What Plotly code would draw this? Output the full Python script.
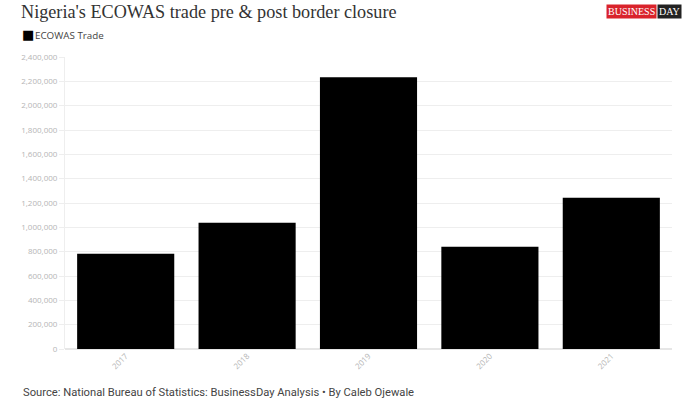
import plotly.graph_objects as go

years = ["2017", "2018", "2019", "2020", "2021"]
trade = [783000, 1038000, 2234000, 841000, 1243000]
y_ticks = [0, 200000, 400000, 600000, 800000, 1000000, 1200000, 1400000,
           1600000, 1800000, 2000000, 2200000, 2400000]
y_tick_labels = [f"{v:,}" for v in y_ticks]

W, H = 700, 400
ML, MR, MT, MB = 65, 28, 57, 51

fig = go.Figure()
fig.add_trace(go.Bar(
    x=years, y=trade, name="ECOWAS Trade",
    marker=dict(color="#000000", line=dict(width=0)),
    hovertemplate="%{x}: %{y:,}<extra></extra>",
))

fig.update_layout(
    width=W, height=H,
    margin=dict(l=ML, r=MR, t=MT, b=MB),
    paper_bgcolor="white", plot_bgcolor="white",
    bargap=0.2,
    showlegend=False,
    font=dict(family="Open Sans", color="#444"),
    xaxis=dict(
        type="category",
        tickangle=-45,
        tickfont=dict(size=8, color="#b5b5b5"),
        showgrid=False, showline=False, ticks="",
    ),
    yaxis=dict(
        range=[0, 2400000],
        tickvals=y_ticks, ticktext=y_tick_labels,
        tickfont=dict(size=8, color="#b5b5b5"),
        showgrid=True, gridcolor="#eeeeee", gridwidth=1,
        zeroline=True, zerolinecolor="#e6e6e6",
        showline=True, linecolor="#eeeeee",
        ticks="outside", ticklen=5, tickcolor="#eeeeee",
    ),
)

def px_x(x):  # page pixel -> shift relative to plot left
    return x - ML

def px_y(y):  # page pixel -> shift relative to plot top (positive up)
    return MT - y

# title
fig.add_annotation(
    text="Nigeria's ECOWAS trade pre & post border closure",
    xref="paper", yref="paper", x=0, y=1, xanchor="left", yanchor="middle",
    xshift=px_x(19), yshift=px_y(12), showarrow=False,
    font=dict(family="Liberation Serif", size=18.2, color="#333333"),
)
# legend marker + label
fig.add_annotation(
    text="\u25A0", xref="paper", yref="paper", x=0, y=1,
    xanchor="left", yanchor="middle", xshift=px_x(20), yshift=px_y(34), showarrow=False,
    font=dict(family="DejaVu Sans", size=13, color="#000000"),
)
fig.add_annotation(
    text="ECOWAS Trade", xref="paper", yref="paper", x=0, y=1,
    xanchor="left", yanchor="middle", xshift=px_x(33), yshift=px_y(35), showarrow=False,
    font=dict(family="Open Sans", size=9.8, color="#444444"),
)
# logo
fig.add_annotation(
    text="BUSINESS", xref="paper", yref="paper", x=0, y=1,
    xanchor="right", yanchor="middle", xshift=px_x(657), yshift=px_y(11.5), showarrow=False,
    bgcolor="#d9232b", borderpad=1,
    font=dict(family="Liberation Serif", size=10, color="white"),
)
fig.add_annotation(
    text="DAY", xref="paper", yref="paper", x=0, y=1,
    xanchor="left", yanchor="middle", xshift=px_x(657), yshift=px_y(11.5), showarrow=False,
    bgcolor="#222222", borderpad=1,
    font=dict(family="Liberation Serif", size=10, color="white"),
)
# footer
fig.add_annotation(
    text="Source: National Bureau of Statistics: BusinessDay Analysis \u2022 By Caleb Ojewale",
    xref="paper", yref="paper", x=0, y=1, xanchor="left", yanchor="middle",
    xshift=px_x(21), yshift=px_y(392), showarrow=False,
    font=dict(family="Roboto", size=11.2, color="#444444"),
)

fig.write_html("out.html", config={"displayModeBar": False},
               post_script="document.body.style.margin='0';")
